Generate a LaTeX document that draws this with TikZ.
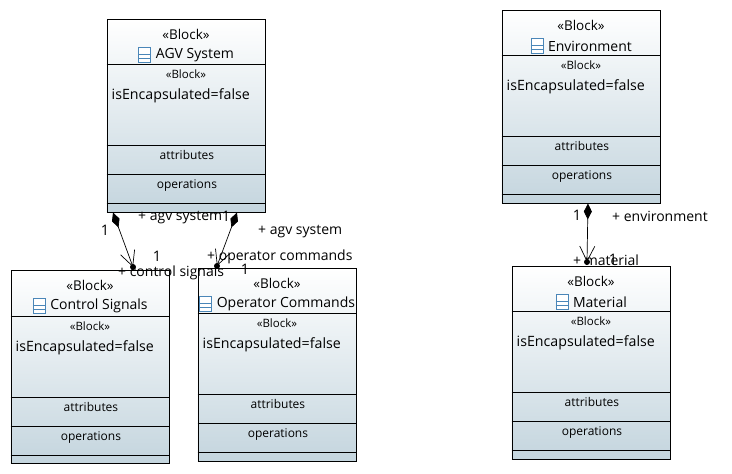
\documentclass[tikz,border=0pt]{standalone}
\usepackage{fontspec}
\setmainfont{Open Sans}
\usetikzlibrary{arrows.meta, positioning}

\definecolor{blockbot}{RGB}{196,213,222}
\definecolor{iconblue}{RGB}{74,134,184}

\tikzset{
  block/.style={draw, line width=0.9pt, minimum width=158pt, minimum height=193pt,
                anchor=north west, top color=white, bottom color=blockbot, inner sep=0pt},
  stereo/.style={font=\fontsize{13.5}{15}\selectfont, inner sep=0pt},
  small stereo/.style={font=\fontsize{11.5}{13}\selectfont, inner sep=0pt},
  title/.style={font=\fontsize{14}{16}\selectfont, inner sep=0pt},
  comp/.style={font=\fontsize{12}{14}\selectfont, inner sep=0pt},
  prop/.style={font=\fontsize{14.2}{16}\selectfont, inner sep=0pt},
  role/.style={font=\fontsize{14}{16}\selectfont, inner sep=0pt, anchor=west, yshift=-1.5pt},
  mult/.style={font=\fontsize{14.5}{16}\selectfont, inner sep=0pt},
  icon/.style={draw=iconblue, fill=white, line width=0.8pt, minimum width=12pt,
               minimum height=15pt, inner sep=0pt},
  dot/.style={circle, fill=black, inner sep=0pt, minimum size=6pt},
  compos/.style={line width=0.7pt,
                 {Diamond[length=16pt,width=8pt]}-{Straight Barb[length=15pt,width=15pt,line width=0.7pt]}}
}

% one block: name, x, y, title, offset of first compartment line
\newcommand{\umlblock}[5]{
  \node[block] (#1) at (#2-0.5,#3) {};
  \node[stereo, below=15pt of #1.north, anchor=center] (#1s) {«Block»};
  \node[title, below=36pt of #1.north, xshift=9pt, anchor=center] (#1t) {#4};
  \node[icon, left=4.5pt of #1t] (#1i) {};
  \draw[iconblue, line width=0.8pt] ([yshift=-7.5pt]#1i.north west) -- ([yshift=-7.5pt]#1i.north east);
  \draw[iconblue, line width=0.8pt] ([yshift=-11pt]#1i.north west) -- ([yshift=-11pt]#1i.north east);
  \node[small stereo, below=#5pt of #1.north, yshift=-10.5pt, anchor=center] (#1b) {«Block»};
  \node[prop, below=#5pt of #1.north west, xshift=5pt, yshift=-31.5pt, anchor=west] (#1e) {isEncapsulated=false};
  \node[comp, below=#5pt of #1.north, xshift=1pt, yshift=-91pt, anchor=center] (#1a) {attributes};
  \node[comp, below=#5pt of #1.north, xshift=1pt, yshift=-121.5pt, anchor=center] (#1o) {operations};
  \foreach \off in {0,81,110,139} {
    \draw[line width=0.9pt] ([yshift=-#5pt-\off pt]#1.north west) -- ([xshift=1pt,yshift=-#5pt-\off pt]#1.north east);
  }
}

\begin{document}
\begin{tikzpicture}[x=1pt, y=-1pt]
\useasboundingbox (0,0) rectangle (732,474);

\umlblock{agv}{107}{19}{AGV System}{45}
\umlblock{env}{502}{10}{Environment}{45}
\umlblock{ctl}{11}{270}{Control Signals}{46}
\umlblock{opr}{198}{268}{Operator Commands}{45}
\umlblock{mat}{512}{266}{Material}{45}

% connector ends
\coordinate (agvl) at (113,212.5);
\coordinate (agvr) at (237,212.5);
\coordinate (envd) at (588,203.5);
\node[dot] (ctld) at (133,267) {};
\node[dot] (oprd) at (217,266) {};
\node[dot] (matd) at (587,262) {};

\draw[compos] (agvl) -- (ctld.center);
\draw[compos] (agvr) -- (oprd.center);
\draw[compos] (envd) -- (matd.center);

% role names and multiplicities
\node[role] (r1) at (138,216) {+ agv system};
\node[mult] (m1) at (105,230) {1};
\node[mult] (m2) at (226,216) {1};
\node[role] (r2) at (258,230) {+ agv system};
\node[mult] (m3) at (157,256) {1};
\node[role] (r3) at (118,271) {+ control signals};
\node[role] (r4) at (207,255) {+ operator commands};
\node[mult] (m4) at (245,269) {1};
\node[role] (r5) at (612,215) {+ environment};
\node[mult] (m5) at (577,215) {1};
\node[role] (r6) at (573,259) {+ material};
\node[mult] (m6) at (613,259) {1};
\end{tikzpicture}
\end{document}
